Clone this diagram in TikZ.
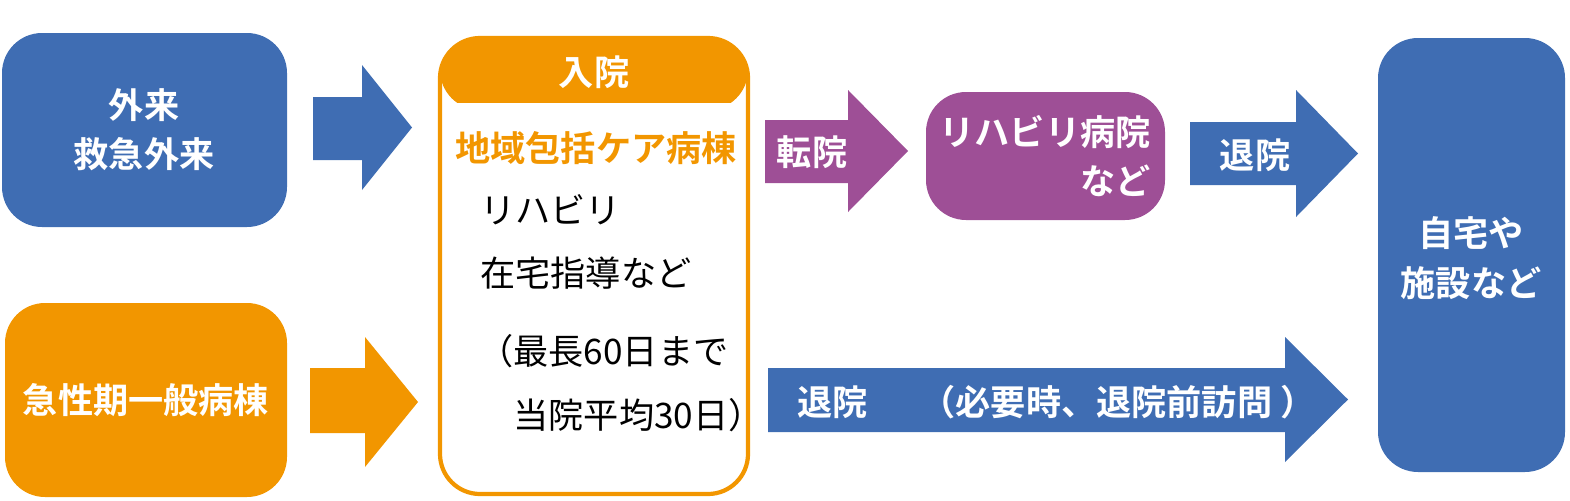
\documentclass[tikz,border=0pt]{standalone}
\usepackage{fontspec}
\setmainfont{Noto Sans CJK JP}
\newfontfamily\jpbold{Noto Sans CJK JP Bold}
\usetikzlibrary{positioning}

\definecolor{cblue}{HTML}{3F6DB3}
\definecolor{corange}{HTML}{F29600}
\definecolor{cpurple}{HTML}{9E4F96}

\tikzset{
  box/.style={rounded corners=4mm, inner sep=0pt, text=white, font=\jpbold\fontsize{10}{14}\selectfont, align=center},
  lbl/.style={text=white, font=\jpbold\fontsize{10}{14}\selectfont},
}
% block arrow: #1 colour, x0, xhead, x1, shaft bottom/top, head bottom/top
\newcommand{\blockarr}[8]{\fill[#1] (#2,#5) -- (#3,#5) -- (#3,#7) -- (#4,{(#7+#8)/2}) -- (#3,#8) -- (#3,#6) -- (#2,#6) -- cycle;}

\begin{document}
\begin{tikzpicture}[x=0.01cm,y=-0.01cm]
\useasboundingbox (0,0) rectangle (1570,500);

% left boxes
\fill[cblue, rounded corners=4mm] (2,33) rectangle (287,227);
\node[lbl, align=center] (gairai) at (144,130) {外来\\救急外来};
\fill[corange, rounded corners=4mm] (5,303) rectangle (287,497);
\node[lbl] (kyusei) at (146,400) {急性期一般病棟};

% arrows into ward
\blockarr{cblue}{313}{362}{412}{160}{97}{190}{65}
\blockarr{corange}{310}{365}{418}{433}{368}{467}{337}

% ward
\fill[corange, rounded corners=4mm] (440,38) rectangle (748,110);
\fill[white] (442.5,103) rectangle (745.5,115);
\draw[corange, line width=1.2pt, rounded corners=4mm] (440,38) rectangle (748,494);
\node[lbl] (nyuin) at (594,72) {入院};
\node[font=\jpbold\fontsize{10}{14}\selectfont, text=corange] (byoto) at (596,148) {地域包括ケア病棟};
\node[anchor=west, align=left, font=\fontsize{10}{18}\selectfont] (reha) at (468,242) {リハビリ\\在宅指導など};
\node[anchor=west, align=left, font=\fontsize{10}{18}\selectfont] (saicho) at (466,383) {（最長60日まで\\\hspace*{1em}当院平均30日）};

% transfer
\blockarr{cpurple}{765}{848}{908}{183}{120}{212}{90}
\node[lbl] (tenin) at (812,152) {転院};
\fill[cpurple, rounded corners=4mm] (926,92) rectangle (1165,220);
\node[lbl, align=right] (rehabyo) at (1045,156) {リハビリ病院\\など};

% discharge
\blockarr{cblue}{1190}{1296}{1358}{185}{122}{217}{90}
\node[lbl] (taiin1) at (1255,155) {退院};
\blockarr{cblue}{768}{1285}{1348}{432}{368}{462}{337}
\node[lbl, anchor=west] (taiin2) at (785,402) {退院\hspace{1.5em}（必要時、退院前訪問 ）};

% home
\fill[cblue, rounded corners=4mm] (1378,38) rectangle (1565,472);
\node[lbl, align=center] (jitaku) at (1471,258) {自宅や\\施設など};
\end{tikzpicture}
\end{document}
